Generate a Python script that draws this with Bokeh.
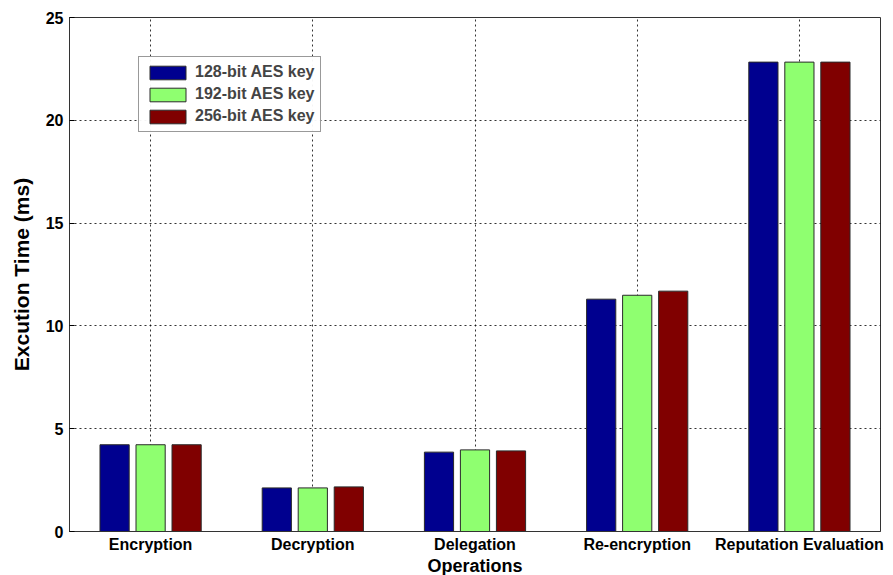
from bokeh.plotting import figure
from bokeh.models import ColumnDataSource, FactorRange, FixedTicker, Range1d, Legend, LegendItem
from bokeh.transform import dodge
from bokeh.embed import file_html
from bokeh.resources import INLINE

operations = ["Encryption", "Decryption", "Delegation", "Re-encryption", "Reputation Evaluation"]
aes128 = [4.22, 2.12, 3.86, 11.30, 22.83]
aes192 = [4.22, 2.12, 3.97, 11.49, 22.83]
aes256 = [4.22, 2.17, 3.92, 11.69, 22.83]
series_names = ["128-bit AES key", "192-bit AES key", "256-bit AES key"]
colors = ["#00008F", "#8FFF70", "#800000"]
y_ticks = [0, 5, 10, 15, 20, 25]

src = ColumnDataSource(dict(op=operations, a=aes128, b=aes192, c=aes256))

FONT = "Liberation Sans"
p = figure(x_range=FactorRange(*operations, range_padding=0.0),
           y_range=Range1d(0, 25),
           frame_width=811, frame_height=514,
           min_border_left=69, min_border_right=10, min_border_top=17, min_border_bottom=40,
           output_backend="svg", toolbar_location=None, tools="")
p.x_range.factor_padding = 0.0

rs = []
for col, off, c in zip(["a", "b", "c"], [-0.222, 0.0, 0.222], colors):
    r = p.vbar(x=dodge("op", off, range=p.x_range), top=col, width=0.18, source=src,
               fill_color=c, line_color="#2a2a2a", line_width=1)
    rs.append(r)

p.outline_line_color = "#333333"
p.outline_line_width = 1
for ax in (p.xaxis[0], p.yaxis[0]):
    ax.axis_line_color = "#333333"
    ax.major_tick_in = 5
    ax.major_tick_out = 0
    ax.minor_tick_line_color = None
    ax.major_label_text_font = FONT
    ax.major_label_text_font_style = "bold"
    ax.major_label_text_font_size = "16px"
    ax.major_label_text_color = "black"
    ax.axis_label_text_font = FONT
    ax.axis_label_text_font_style = "bold"
    ax.axis_label_text_color = "black"
p.yaxis.ticker = FixedTicker(ticks=y_ticks)
p.yaxis.axis_label = "Excution Time (ms)"
p.yaxis.axis_label_text_font_size = "21px"
p.yaxis.axis_label_standoff = 10
p.yaxis.major_label_standoff = 6
p.xaxis.axis_label = "Operations"
p.xaxis.axis_label_text_font_size = "18px"
p.xaxis.axis_label_standoff = 0
p.xaxis.major_label_standoff = 4
p.xaxis.major_tick_in = 0

for g in (p.xgrid[0], p.ygrid[0]):
    g.grid_line_color = "black"
    g.grid_line_dash = "2 3"
    g.grid_line_alpha = 0.8
    g.grid_line_width = 1
p.xgrid.level = "underlay"
p.ygrid.level = "underlay"

legend = Legend(items=[LegendItem(label=n, renderers=[r]) for n, r in zip(series_names, rs)],
                location=(69, 399))
legend.label_text_font = FONT
legend.label_text_font_style = "bold"
legend.label_text_font_size = "16px"
legend.glyph_width = 45
legend.glyph_height = 17
legend.label_height = 17
legend.spacing = 4
legend.padding = 6
legend.margin = 0
legend.border_line_color = "#333333"
legend.label_standoff = 5
p.add_layout(legend)

p.background_fill_color = "white"
p.border_fill_color = "white"

open("out.html", "w").write(file_html(p, INLINE))
